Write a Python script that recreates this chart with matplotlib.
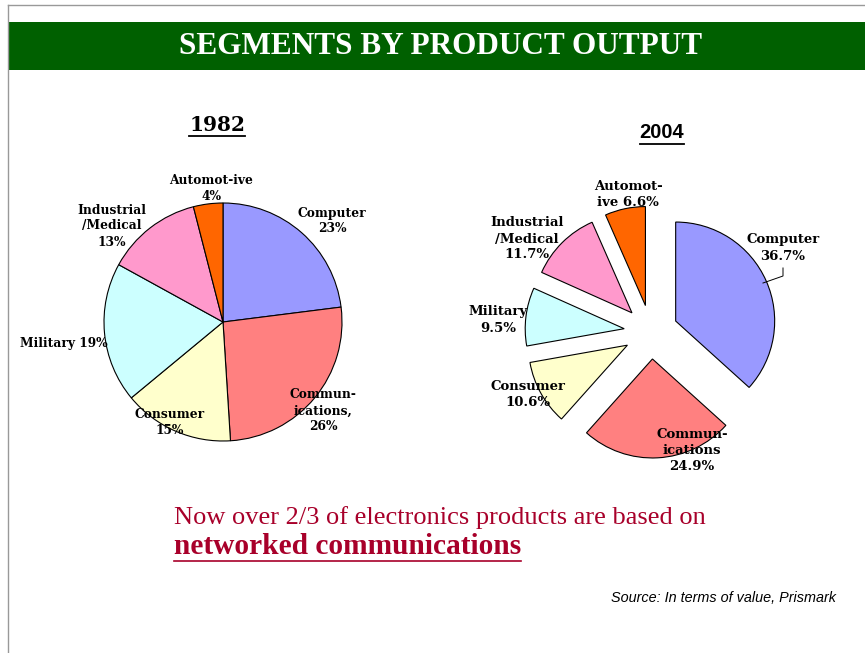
import numpy as np
import matplotlib
matplotlib.use('Agg')
import matplotlib.pyplot as plt
from matplotlib.patches import Rectangle

# data
segments = ['Computer', 'Communications', 'Consumer', 'Military', 'Industrial/Medical', 'Automotive']
share_1982 = [23, 26, 15, 19, 13, 4]
share_2004 = [36.7, 24.9, 10.6, 9.5, 11.7, 6.6]
colors = ['#9999FF', '#FF8080', '#FFFFCC', '#CCFFFF', '#FF99CC', '#FF6600']

labels_1982 = ['Computer\n23%', 'Commun-\nications,\n26%', 'Consumer\n15%',
               'Military 19%', 'Industrial\n/Medical\n13%', 'Automot-ive\n4%']
labels_2004 = ['Computer\n36.7%', 'Commun-\nications\n24.9%', 'Consumer\n10.6%',
               'Military\n9.5%', 'Industrial\n/Medical\n11.7%', 'Automot-\nive 6.6%']

# label positions (pixels, top-left origin)
pos_1982 = [(332, 221), (323, 411), (170, 423), (64, 343), (112, 226), (211, 189)]
pos_2004 = [(783, 248), (692, 451), (528, 395), (498, 320), (527, 239), (628, 195)]

W, H = 865, 653
fig = plt.figure(figsize=(W / 100, H / 100), dpi=100)
ax = fig.add_axes([0, 0, 1, 1])

def py(y):
    return H - y

# frame lines and banner
ax.plot([8, W], [py(5), py(5)], color='#999999', lw=1)
ax.plot([8, 8], [py(5), 0], color='#999999', lw=1)
ax.add_patch(Rectangle((8, py(70)), W - 8, 48, color='#006000', lw=0))
ax.text(441, py(46), 'SEGMENTS BY PRODUCT OUTPUT', color='white', fontsize=22.5,
        fontweight='bold', family='Liberation Serif', ha='center', va='center')

# pies
wp = dict(edgecolor='black', linewidth=0.8)
ax.pie(share_1982, colors=colors, startangle=90, counterclock=False,
       center=(223, py(322)), radius=119, wedgeprops=wp, frame=True)
ax.pie(share_2004, colors=colors, startangle=90, counterclock=False,
       center=(651, py(332)), radius=99, explode=[27] * 6, wedgeprops=wp, frame=True)

lab_font = dict(family='DejaVu Serif', fontweight='bold', ha='center', va='center',
                linespacing=1.3)
for txt, (x, y) in zip(labels_1982, pos_1982):
    ax.text(x, py(y), txt, fontsize=8.8, **lab_font)
for txt, (x, y) in zip(labels_2004, pos_2004):
    ax.text(x, py(y), txt, fontsize=9.5, **lab_font)

# leader line for Computer 2004
ax.plot([783, 783, 763], [py(268), py(276), py(283)], color='black', lw=0.7)

# pie titles
t1 = ax.text(217, py(125), '1982', fontsize=14.5, family='DejaVu Serif', fontweight='bold',
             ha='center', va='center')
t2 = ax.text(662, py(133), '2004', fontsize=14.5, family='Liberation Sans', fontweight='bold',
             ha='center', va='center')

# comment text
red = '#A8002A'
ax.text(174, py(518), 'Now over 2/3 of electronics products are based on', color=red,
        fontsize=19, family='Liberation Serif', ha='left', va='center')
t3 = ax.text(174, py(546), 'networked communications', color=red, fontsize=21.2,
             family='Liberation Serif', fontweight='bold', ha='left', va='center')

ax.text(836, py(598), 'Source: In terms of value, Prismark', fontsize=10.4,
        family='Liberation Sans', style='italic', ha='right', va='center')

ax.set_xlim(0, W)
ax.set_ylim(0, H)
ax.axis('off')

# underlines
fig.canvas.draw()
r = fig.canvas.get_renderer()
inv = ax.transData.inverted()
for t, c, lw in [(t1, 'black', 1.3), (t2, 'black', 1.3), (t3, red, 1.2)]:
    bb = t.get_window_extent(r)
    (x0, y0), (x1, y1) = inv.transform([[bb.x0, bb.y0], [bb.x1, bb.y1]])
    ax.plot([x0, x1], [y0 - 1, y0 - 1], color=c, lw=lw)

plt.savefig('out.png', dpi=100)
